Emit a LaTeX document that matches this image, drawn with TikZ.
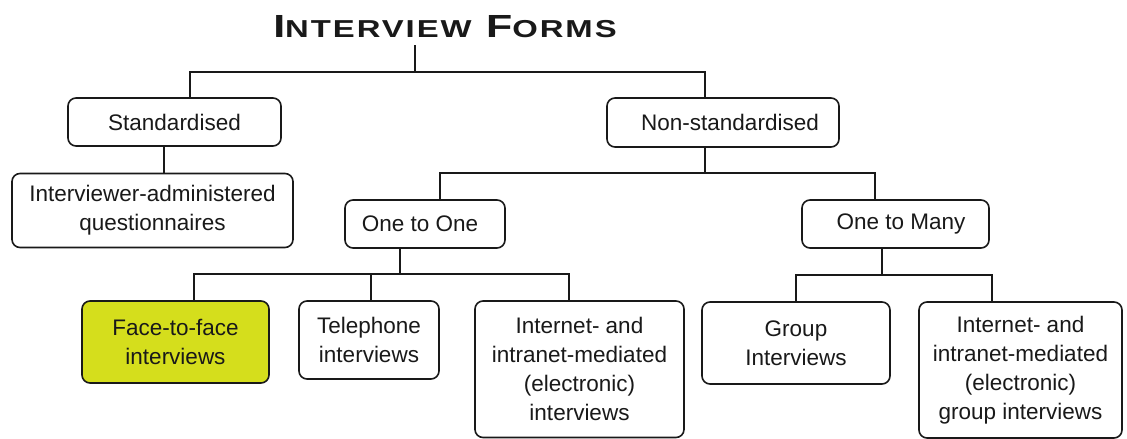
\documentclass[tikz,border=0pt]{standalone}
\usepackage{fontspec}
\usepackage{graphicx}
\setmainfont{Liberation Sans}
\newfontfamily\titlefont[LetterSpace=6]{Liberation Sans}
\definecolor{limefill}{RGB}{213,222,28}
\definecolor{ink}{RGB}{25,25,25}

\begin{document}
\begin{tikzpicture}[x=1pt,y=-1pt,
  box/.style={draw=ink, line width=1.6pt, rounded corners=8pt, fill=white,
    align=center, inner sep=0pt, text=ink,
    font=\fontsize{22.5}{29}\selectfont},
  link/.style={draw=ink, line width=1.6pt},
  heading/.style={anchor=base, inner xsep=0pt, inner ysep=8pt, text=ink}]
\useasboundingbox (0,0) rectangle (1127,439);

% heading
\node[heading] (title) at (445,37)
  {\scalebox{1.34}[1]{\titlefont\bfseries
   {\fontsize{32}{32}\selectfont I}{\fontsize{24.5}{24.5}\selectfont NTERVIEW}\fontsize{32}{32}\selectfont\ F{\fontsize{24.5}{24.5}\selectfont ORMS}}};

% first level
\node[box, minimum width=213pt, minimum height=48pt] (std) at (174.5,122) {Standardised};
\node[box, minimum width=232pt, minimum height=49pt] (nonstd) at (723,122.5) {\hspace*{14pt}Non-standardised};

% second level
\node[box, minimum width=281pt, minimum height=74pt] (iaq) at (152.5,210.5)
  {Interviewer-administered\\questionnaires};
\node[box, minimum width=160pt, minimum height=48pt] (o2o) at (425,224) {One to One\hspace*{10pt}};
\node[box, minimum width=187pt, minimum height=48pt] (o2m) at (895.5,224) {\hspace*{11pt}One to Many};

% third level
\node[box, fill=limefill, minimum width=187pt, minimum height=82pt] (face) at (175.5,342)
  {Face-to-face\\interviews};
\node[box, minimum width=140pt, minimum height=78pt] (tel) at (369,340)
  {Telephone\\interviews};
\node[box, minimum width=209pt, minimum height=136.5pt] (inet1) at (579.5,369.25)
  {Internet- and\\intranet-mediated\\(electronic)\\interviews};
\node[box, minimum width=188pt, minimum height=82pt] (grp) at (796,343)
  {Group\\Interviews};
\node[box, minimum width=203pt, minimum height=136pt] (inet2) at (1020.5,370)
  {Internet- and\\intranet-mediated\\(electronic)\\group interviews};

% junction points of the tree
\coordinate (tJ) at (415,72);
\coordinate (stdJ) at (190,72);
\coordinate (nsJ) at (705,72);
\coordinate (iaqX) at (164,160);
\coordinate (nsB) at (705,173);
\coordinate (o2oJ) at (440,173);
\coordinate (o2mJ) at (875,173);
\coordinate (o2oB) at (400,274);
\coordinate (faceJ) at (194,274);
\coordinate (telJ) at (371,274);
\coordinate (in1J) at (569,274);
\coordinate (o2mB) at (882,275);
\coordinate (grpJ) at (796,275);
\coordinate (in2J) at (992,275);

% connectors
\draw[link] (title.south -| tJ) -- (tJ);
\draw[link] (std.north -| stdJ) -- (stdJ) -- (nsJ) -- (nonstd.north -| nsJ);
\draw[link] (std.south -| iaqX) -- (iaq.north -| iaqX);
\draw[link] (nonstd.south -| nsB) -- (nsB);
\draw[link] (o2o.north -| o2oJ) -- (o2oJ) -- (o2mJ) -- (o2m.north -| o2mJ);
\draw[link] (o2o.south -| o2oB) -- (o2oB);
\draw[link] (face.north -| faceJ) -- (faceJ) -- (in1J) -- (inet1.north -| in1J);
\draw[link] (telJ) -- (tel.north -| telJ);
\draw[link] (o2m.south -| o2mB) -- (o2mB);
\draw[link] (grp.north -| grpJ) -- (grpJ) -- (in2J) -- (inet2.north -| in2J);
\end{tikzpicture}
\end{document}
